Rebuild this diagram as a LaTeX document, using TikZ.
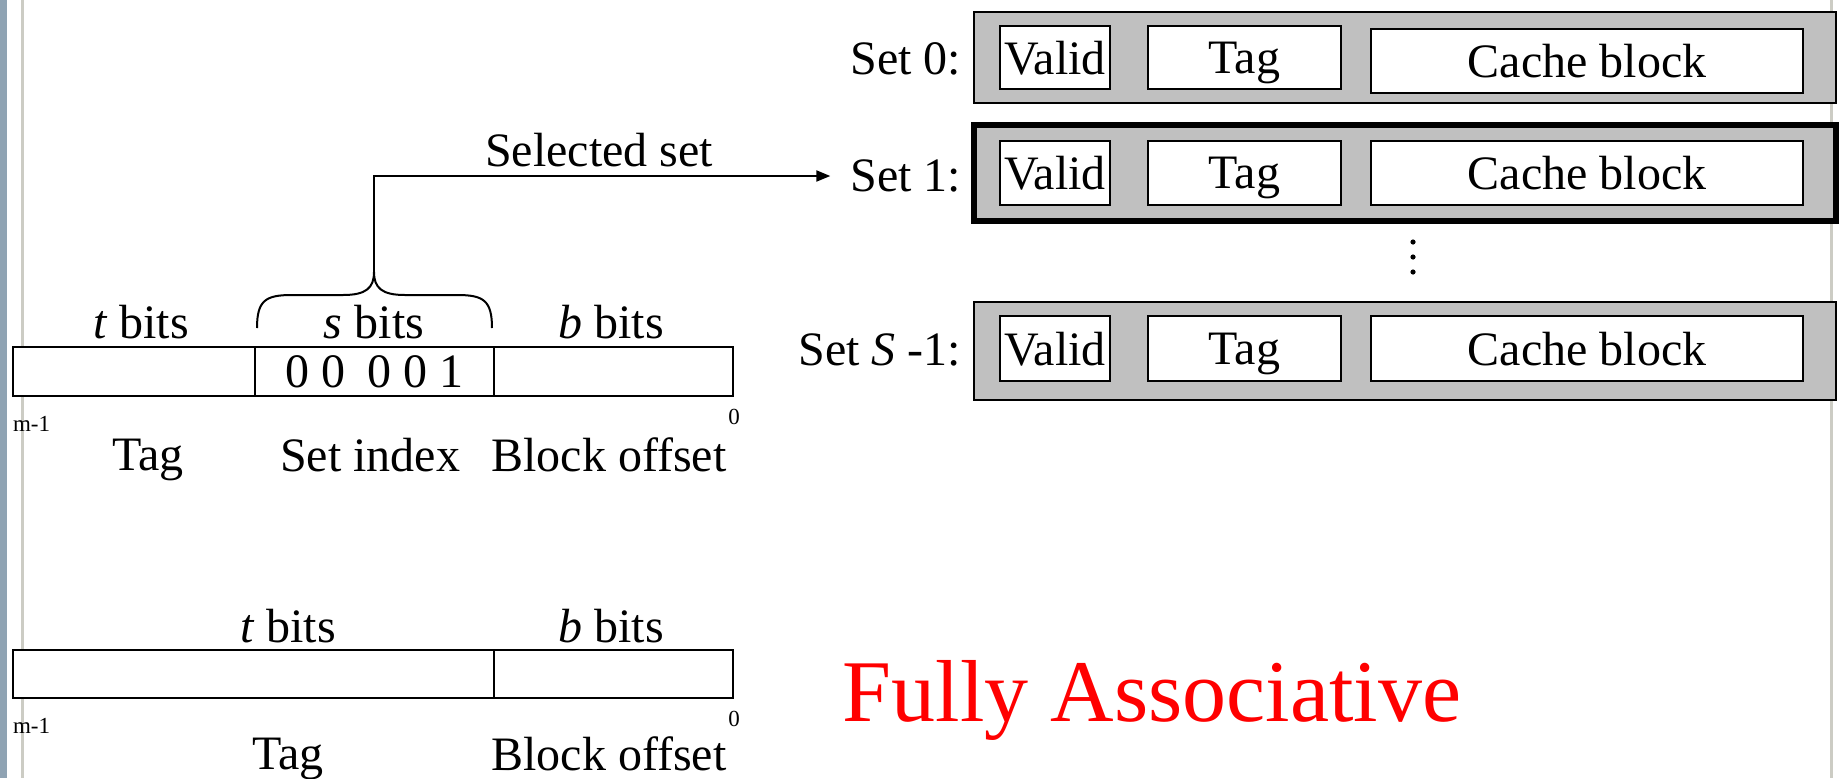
\documentclass[tikz,border=0pt]{standalone}
\usepackage{fontspec}
\setmainfont{Liberation Serif}
\usetikzlibrary{arrows.meta}
\definecolor{setgray}{RGB}{192,192,192}
\definecolor{sidebar}{RGB}{143,163,179}
\definecolor{ruleline}{RGB}{204,204,196}
\definecolor{fared}{RGB}{255,0,0}
\newcommand\mkbox[7]{\node[#6, minimum width={(#4-#2)*0.5pt}, minimum height={(#5-#3)*0.5pt}] (#1) at ({(#2+#4)/2},{(#3+#5)/2}) {#7};}
\tikzset{
  every node/.style={font=\fontsize{24}{28}\selectfont, inner sep=0pt, outer sep=0pt, text depth=0pt},
  field/.style={draw=black, line width=1pt, fill=white},
  setrow/.style={draw=black, line width=1pt, fill=setgray},
  selrow/.style={draw=black, line width=3pt, fill=setgray},
  small/.style={font=\fontsize{11.5}{12}\selectfont},
  lbl/.style={anchor=east},
}
\begin{document}
\begin{tikzpicture}[x=0.5pt,y=-0.5pt]
\useasboundingbox (0,0) rectangle (1843,778);
\fill[white] (0,0) rectangle (1843,778);
% slide decorations
\fill[sidebar] (0,0) rectangle (7,778);
\fill[ruleline] (21,0) rectangle (24,778);
\fill[ruleline] (1830,0) rectangle (1833,778);

% ---------- cache sets ----------
\mkbox{set0}{974}{12}{1836}{103}{setrow}{}
\mkbox{v0}{1000}{26}{1110}{89}{field}{Valid}
\mkbox{t0}{1148}{26}{1341}{89}{field}{Tag}
\mkbox{c0}{1371}{29}{1803}{93}{field}{Cache block}
\node[lbl] (set0lbl) at (961,59) {Set 0:};

\mkbox{set1}{974}{125}{1836}{221}{selrow}{}
\mkbox{v1}{1000}{141}{1110}{205}{field}{Valid}
\mkbox{t1}{1148}{141}{1341}{205}{field}{Tag}
\mkbox{c1}{1371}{141}{1803}{205}{field}{Cache block}
\node[lbl] (set1lbl) at (961,176) {Set 1:};

\fill (1413,242) circle (2.6);
\fill (1413,257) circle (2.6);
\fill (1413,272) circle (2.6);

\mkbox{set2}{974}{302}{1836}{400}{setrow}{}
\mkbox{v2}{1000}{316}{1110}{381}{field}{Valid}
\mkbox{t2}{1148}{316}{1341}{381}{field}{Tag}
\mkbox{c2}{1371}{316}{1803}{381}{field}{Cache block}
\node[lbl] (set2lbl) at (961,350) {Set \textit{S} -1:};

% ---------- address (set associative) ----------
\mkbox{atag}{13}{347}{255}{396}{field}{}
\mkbox{aset}{255}{347}{494}{396}{field}{0 0\hspace{0.45em}0 0 1}
\mkbox{aoff}{494}{347}{733}{396}{field}{}
\node (tb1) at (141,322) {\textit{t} bits};
\node (sb1) at (374,322) {\textit{s} bits};
\node (bb1) at (611,322) {\textit{b} bits};
\node[small, anchor=base west] (m1a) at (13,431) {m-1};
\node[small, anchor=base] (z1a) at (734,424) {0};
\node (tagl1) at (148,455) {Tag};
\node (setl1) at (370,455) {Set index};
\node (offl1) at (609,455) {Block offset};

% brace
\coordinate (brL) at (257,328);
\coordinate (brR) at (492,328);
\coordinate (brtip) at (374,272);
\draw[line width=1pt] (brL) .. controls (257,300) and (266,295) .. (292,295) -- (343,295)
  .. controls (366,295) and (374,288) .. (brtip)
  .. controls (374,288) and (382,295) .. (405,295) -- (457,295)
  .. controls (483,295) and (492,300) .. (brR);
\draw[line width=1pt, -{Triangle[length=7pt,width=5.5pt]}, shorten >=10pt] (brtip) |- (set1lbl.west);
\node (selset) at (599,150) {Selected set};

% ---------- address (fully associative) ----------
\mkbox{btag}{13}{650}{494}{698}{field}{}
\mkbox{boff}{494}{650}{733}{698}{field}{}
\node (tb2) at (288,626) {\textit{t} bits};
\node (bb2) at (611,626) {\textit{b} bits};
\node[small, anchor=base west] (m1b) at (13,733) {m-1};
\node[small, anchor=base] (z1b) at (734,726) {0};
\node (tagl2) at (288,754) {Tag};
\node (offl2) at (609,754) {Block offset};

\node[text=fared, font=\fontsize{44}{50}\selectfont] (fa) at (1152,691) {Fully Associative};
\end{tikzpicture}
\end{document}
